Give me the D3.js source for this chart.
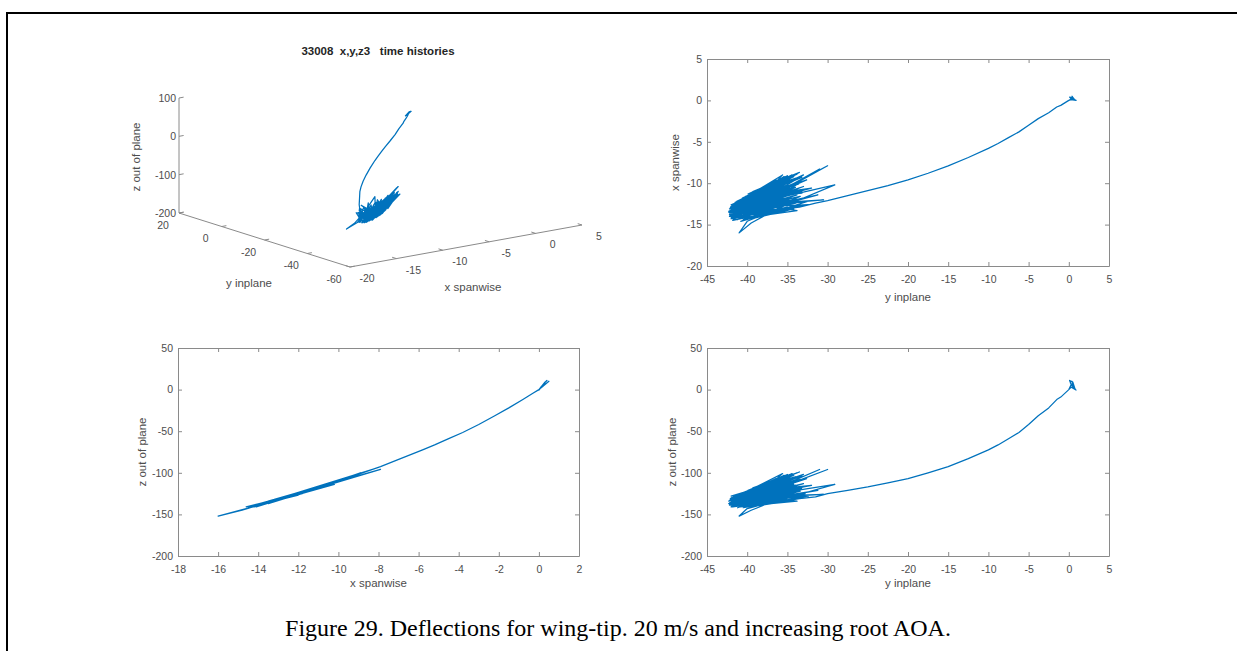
<!DOCTYPE html>
<html>
<head>
<meta charset="utf-8">
<script src="https://cdn.jsdelivr.net/npm/d3@7"></script>
<style>
  html, body { margin: 0; padding: 0; background: #fff; }
  svg { display: block; }
  text { font-family: "Liberation Sans", Arial, sans-serif; font-size: 11.5px; fill: #4d4d4d; }
  .caption { font-family: "Liberation Serif", "Times New Roman", serif; font-size: 24px; fill: #000; }
  .title { font-weight: bold; fill: #262626; white-space: pre; }
  .axis path, .axis line { stroke: #8a8a8a; }
  .axis text { fill: #4d4d4d; font-size: 10.5px; }
</style>
</head>
<body>
<svg id="fig" width="1237" height="651"></svg>
<script>
// wing-tip trajectory, one sample per index
// origin tuft, smooth bend, then the stalled cluster (threads first, dense core after)
var yInplane = [
  0, 0.3, 0.1, 0.5, 0.8, 0.4, 0.6, 0.2, 0.9, 0.3, 0,
  -0.5, -1, -1.5, -2.5, -3.8, -5, -6.2, -7.5, -8.8, -10, -12.5, -15, -17.5, -20, -22.5, -25, -27.5, -30,
  -31.5, -33.5, -36, -39, -42.2, -36.5, -41.8, -35.5, -42.0, -34.8, -41.5, -33.0, -40.8, -31.0, -39.5, -30.0,
  -38.5, -35.8, -41.2, -36.2, -42.0, -34.0, -40.5, -33.2, -39.2, -32.0, -41.6, -29.1, -35.0, -40.0, -41.0,
  -39.5, -37.2, -41.8, -36.8, -40.6, -35.2, -39.8, -34.2, -42.3, -37.5, -40.2, -33.6, -38.8, -31.2, -37.8,
  -32.5, -38.0, -33.8, -39.0, -35.6, -41.0, -36.4, -41.4, -37.8, -42.0, -38.4, -40.4, -34.6, -39.6, -32.8,
  -37.0, -30.5,
  -42.1, -34.5, -41.9, -35.0, -42.2, -34.2, -41.6, -35.5, -42.0, -33.8, -41.4, -36.0, -41.8, -34.8,
  -42.3, -33.5, -41.0, -35.2, -41.7, -36.5, -42.1, -34.0, -40.6, -35.8, -41.5, -33.6, -42.0, -36.2,
  -40.8, -34.4, -41.2, -35.4, -42.2, -33.9, -41.9, -34.6, -40.2, -36.8, -41.6, -35.1, -42.0, -33.4,
  -41.3, -35.9, -40.4, -34.9, -41.8, -34.3, -42.1, -36.3, -41.1, -35.3, -41.7, -33.7, -42.2, -35.7,
  -40.9, -34.1, -41.5, -36.1, -39.8, -37.6, -41.9, -34.7, -42.0, -35.0, -40.7, -33.2, -41.4, -36.6,
  -41.3, -34.4, -40.6, -33.8, -39.9, -35.0, -41.0, -33.2, -40.2, -34.0, -39.3, -33.5, -41.6, -35.6,
  -41.8, -35.0, -40.5, -33.5, -39.0, -34.2, -41.2, -36.0, -40.0, -33.0, -41.0, -34.4, -39.5, -32.6,
  -40.3, -35.5,
  -41.5, -35.2, -42.0, -36.4, -41.8, -36.5, -40.8, -34.8, -40.0, -34.0, -39.0, -33.4, -41.2, -34.9,
  -40.5, -36.0, -38.5, -32.4, -41.6, -35.8
];
var xSpanwise = [
  0, 0.2, 0.4, 0.3, 0.0, 0.5, 0.1, 0.3, 0.0, 0.1, 0,
  -0.3, -0.6, -0.8, -1.5, -2.2, -3.0, -3.8, -4.5, -5.2, -5.8, -6.9, -7.9, -8.8, -9.6, -10.3, -10.9, -11.5, -12.1,
  -12.4, -12.9, -13.2, -13.8, -13.6, -11.0, -13.9, -10.4, -13.2, -9.8, -12.8, -9.0, -13.6, -8.3, -13.0, -7.9,
  -12.2, -11.6, -14.4, -12.0, -14.0, -10.5, -12.0, -11.2, -11.6, -10.6, -13.0, -10.2, -12.6, -14.6, -16.0,
  -14.8, -13.6, -13.4, -10.2, -12.4, -9.5, -11.5, -9.2, -13.5, -11.6, -12.9, -10.0, -13.4, -11.4, -12.8,
  -12.2, -13.9, -13.3, -12.5, -9.0, -12.2, -9.6, -13.8, -10.6, -14.3, -11.0, -14.2, -11.8, -13.2, -11.8,
  -12.4, -12.0,
  -13.0, -9.6, -13.3, -10.2, -13.8, -10.6, -12.7, -9.4, -14.1, -11.4, -13.5, -10.0, -12.9, -9.9,
  -13.4, -10.8, -13.9, -11.0, -12.5, -9.8, -13.6, -9.5, -14.2, -12.0, -13.1, -10.1, -12.8, -10.4,
  -13.7, -11.8, -12.6, -9.2, -14.0, -12.4, -13.2, -10.4, -14.0, -11.2, -13.7, -10.7, -13.3, -9.8,
  -12.9, -11.3, -13.3, -12.6, -14.2, -11.1, -12.9, -9.9, -13.5, -11.6, -13.9, -12.0, -13.1, -10.5,
  -12.8, -10.0, -14.0, -12.4, -13.6, -10.4, -12.7, -9.4, -13.9, -11.9, -13.2, -11.0, -12.4, -10.1,
  -12.2, -9.0, -11.8, -8.9, -11.3, -9.1, -12.4, -9.3, -11.6, -9.4, -11.0, -8.7, -12.6, -9.6,
  -14.3, -12.9, -14.4, -12.8, -14.2, -13.1, -14.0, -13.2, -13.0, -10.4, -12.9, -11.3, -12.5, -9.6,
  -12.2, -10.0,
  -12.3, -9.8, -12.6, -10.8, -14.5, -13.4, -14.6, -12.3, -12.0, -10.8, -13.8, -11.6, -13.2, -11.0,
  -12.7, -9.6, -13.5, -12.6, -13.0, -10.2
];
var zOutOfPlane = [
  0, 6, 11, 9, 0, 10, 2, 8, -0.5, 3, 0,
  -4.5, -9, -12, -22, -31.5, -42, -51.5, -59, -66.5, -72.5, -83, -92.5, -100, -107, -112, -117, -121, -125,
  -129, -131, -134, -137, -136, -117, -139, -113, -133, -109, -130, -102, -137, -96, -131, -96,
  -127, -123, -142, -125, -139, -115, -126, -120, -122, -115, -133, -114, -130, -143, -152,
  -145, -136, -135, -111, -128, -106, -121, -103, -137, -123, -131, -109, -134, -121, -131,
  -128, -138, -134, -129, -101, -127, -107, -138, -114, -141, -118, -140, -124, -133, -125,
  -128, -126,
  -132, -107, -135, -112, -138, -114, -129, -105, -141, -121, -136, -111, -131, -109,
  -134, -117, -139, -118, -129, -108, -137, -105, -140, -127, -133, -110, -130, -114,
  -137, -124, -130, -103, -139, -129, -133, -112, -140, -120, -137, -116, -134, -108,
  -132, -120, -134, -130, -141, -119, -131, -109, -136, -123, -138, -126, -133, -114,
  -131, -110, -139, -128, -136, -113, -130, -105, -138, -125, -133, -118, -128, -111,
  -127, -101, -124, -100, -121, -102, -129, -104, -123, -105, -118, -99, -130, -106,
  -141, -131, -142, -131, -140, -133, -139, -134, -132, -113, -131, -120, -129, -107,
  -128, -110,
  -127, -108, -128, -116, -141, -134, -141, -127, -125, -116, -136, -122, -132, -118,
  -130, -107, -134, -128, -131, -111
];

var yTicks = [-45, -40, -35, -30, -25, -20, -15, -10, -5, 0, 5];
var xTicksTop = [-20, -15, -10, -5, 0, 5];
var xTicksWide = [-18, -16, -14, -12, -10, -8, -6, -4, -2, 0, 2];
var zTicks = [-200, -150, -100, -50, 0, 50];
var zTicks3d = [-200, -100, 0, 100];
var yTicks3d = [-60, -40, -20, 0, 20];

var blue = "#0072bd";
var svg = d3.select("#fig");

// page frame
svg.append("line").attr("x1", 6).attr("x2", 1237).attr("y1", 13).attr("y2", 13)
  .attr("stroke", "#000").attr("stroke-width", 2);
svg.append("line").attr("x1", 7).attr("x2", 7).attr("y1", 12).attr("y2", 651)
  .attr("stroke", "#000").attr("stroke-width", 2);

svg.append("text").attr("class", "caption").attr("x", 618).attr("y", 636)
  .attr("text-anchor", "middle")
  .text("Figure 29. Deflections for wing-tip. 20 m/s and increasing root AOA.");

var fmt = function(d) { return String(d); };

function panel(o) {
  var g = svg.append("g");
  var sx = d3.scaleLinear().domain(o.xDomain).range([o.left, o.right]);
  var sy = d3.scaleLinear().domain(o.yDomain).range([o.bottom, o.top]);

  g.append("g").attr("class", "axis").attr("transform", "translate(0," + o.bottom + ")")
    .call(d3.axisBottom(sx).tickValues(o.xTicks).tickFormat(fmt).tickSizeInner(-4).tickSizeOuter(0).tickPadding(10));
  g.append("g").attr("class", "axis").attr("transform", "translate(0," + o.top + ")")
    .call(d3.axisTop(sx).tickValues(o.xTicks).tickFormat("").tickSizeInner(-4).tickSizeOuter(0));
  g.append("g").attr("class", "axis").attr("transform", "translate(" + o.left + ",0)")
    .call(d3.axisLeft(sy).tickValues(o.yTicks).tickFormat(fmt).tickSizeInner(-4).tickSizeOuter(0).tickPadding(5));
  g.append("g").attr("class", "axis").attr("transform", "translate(" + o.right + ",0)")
    .call(d3.axisRight(sy).tickValues(o.yTicks).tickFormat("").tickSizeInner(-4).tickSizeOuter(0));
  g.selectAll(".axis text").style("font-family", "Liberation Sans, Arial, sans-serif");

  var line = d3.line().x(function(i) { return sx(o.xs[i]); }).y(function(i) { return sy(o.ys[i]); });
  g.append("path").datum(d3.range(o.xs.length)).attr("d", line)
    .attr("fill", "none").attr("stroke", blue).attr("stroke-width", 1.25).attr("stroke-linejoin", "round");

  g.append("text").attr("x", (o.left + o.right) / 2).attr("y", o.xlabelY)
    .attr("text-anchor", "middle").attr("dominant-baseline", "central").text(o.xlabel);
  g.append("text").attr("transform", "translate(" + o.ylabelX + "," + (o.top + o.bottom) / 2 + ") rotate(-90)")
    .attr("text-anchor", "middle").attr("dominant-baseline", "central").text(o.ylabel);
}

panel({ left: 707, right: 1109, top: 59, bottom: 266,
  xDomain: [-45, 5], yDomain: [-20, 5], xTicks: yTicks, yTicks: xTicksTop,
  xs: yInplane, ys: xSpanwise, xlabel: "y inplane", ylabel: "x spanwise", xlabelY: 297, ylabelX: 675 });

panel({ left: 178, right: 579, top: 348, bottom: 556,
  xDomain: [-18, 2], yDomain: [-200, 50], xTicks: xTicksWide, yTicks: zTicks,
  xs: xSpanwise, ys: zOutOfPlane, xlabel: "x spanwise", ylabel: "z out of plane", xlabelY: 583, ylabelX: 142 });

panel({ left: 707, right: 1109, top: 348, bottom: 556,
  xDomain: [-45, 5], yDomain: [-200, 50], xTicks: yTicks, yTicks: zTicks,
  xs: yInplane, ys: zOutOfPlane, xlabel: "y inplane", ylabel: "z out of plane", xlabelY: 583, ylabelX: 672 });

// 3-D view: oblique projection built from three linear scales
var u3 = d3.scaleLinear().domain([-20, 5]).range([0, 1]);
var v3 = d3.scaleLinear().domain([-60, 20]).range([0, 1]);
var w3 = d3.scaleLinear().domain([-200, 100]).range([0, 1]);
var corner = [350, 267], ex = [232, -42], ey = [-171, -54], ez = [0, -115];
function proj(x, y, z) {
  var u = u3(x), v = v3(y), w = w3(z);
  return [corner[0] + u * ex[0] + v * ey[0] + w * ez[0],
          corner[1] + u * ex[1] + v * ey[1] + w * ez[1]];
}
var g3 = svg.append("g");
function seg(a, b) {
  g3.append("line").attr("x1", a[0]).attr("y1", a[1]).attr("x2", b[0]).attr("y2", b[1])
    .attr("stroke", "#8a8a8a").attr("stroke-width", 1);
}
function label(p, t, anchor) {
  g3.append("text").attr("x", p[0]).attr("y", p[1]).attr("text-anchor", anchor || "middle")
    .attr("dominant-baseline", "central").style("font-size", "10.5px").text(t);
}
seg(proj(-20, -60, -200), proj(5, -60, -200));
seg(proj(-20, -60, -200), proj(-20, 20, -200));
seg(proj(-20, 20, -200), proj(-20, 20, 100));
xTicksTop.forEach(function(t) {
  var p = proj(t, -60, -200);
  seg(p, proj(t, -58, -200));
  label([p[0] + 17, p[1] + 11], fmt(t));
});
yTicks3d.forEach(function(t) {
  var p = proj(-20, t, -200);
  seg(p, proj(-19.5, t, -200));
  label([p[0] - 16, p[1] + 11.5], fmt(t));
});
zTicks3d.forEach(function(t) {
  var p = proj(-20, 20, t);
  seg(p, proj(-19.5, 20, t));
  label([p[0] - 3, p[1]], fmt(t), "end");
});
var line3 = d3.line()
  .x(function(i) { return proj(xSpanwise[i], yInplane[i], zOutOfPlane[i])[0]; })
  .y(function(i) { return proj(xSpanwise[i], yInplane[i], zOutOfPlane[i])[1]; });
g3.append("path").datum(d3.range(xSpanwise.length)).attr("d", line3)
  .attr("fill", "none").attr("stroke", blue).attr("stroke-width", 1.25).attr("stroke-linejoin", "round");

svg.append("text").attr("class", "title").attr("x", 378).attr("y", 51)
  .attr("text-anchor", "middle").attr("dominant-baseline", "central")
  .text("33008  x,y,z3   time histories");
svg.append("text").attr("x", 249).attr("y", 283).attr("text-anchor", "middle")
  .attr("dominant-baseline", "central").text("y inplane");
svg.append("text").attr("x", 473).attr("y", 287).attr("text-anchor", "middle")
  .attr("dominant-baseline", "central").text("x spanwise");
svg.append("text").attr("transform", "translate(136,157) rotate(-90)").attr("text-anchor", "middle")
  .attr("dominant-baseline", "central").text("z out of plane");
</script>
</body>
</html>
